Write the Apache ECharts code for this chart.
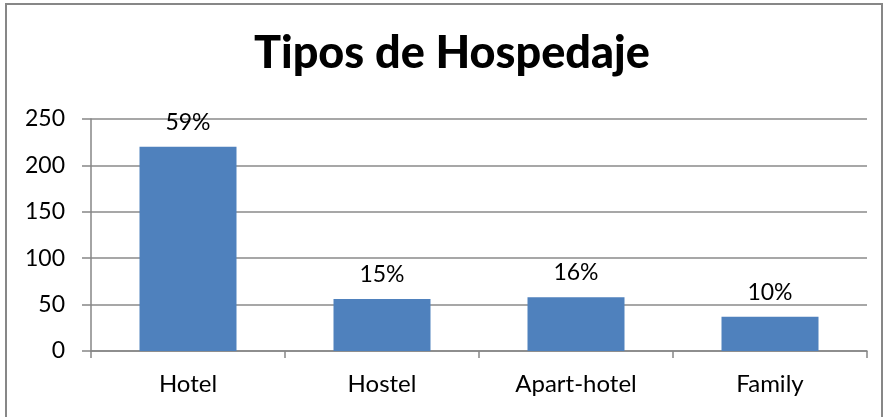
<!DOCTYPE html>
<html><head><meta charset="utf-8">
<script src="https://cdn.jsdelivr.net/npm/echarts@6/dist/echarts.min.js"></script>
<style>html,body{margin:0;padding:0;background:#fff}#c{width:883px;height:417px}</style>
</head><body><div id="c"></div>
<script>
const categories = ['Hotel', 'Hostel', 'Apart-hotel', 'Family'];
const values = [220, 56, 58, 37];
const percentLabels = ['59%', '15%', '16%', '10%'];
const yTicks = [0, 50, 100, 150, 200, 250];

const chart = echarts.init(document.getElementById('c'), null, {renderer: 'canvas'});
const font = 'Lato, "Open Sans", sans-serif';
chart.setOption({
  animation: false,
  backgroundColor: '#fff',
  title: {
    text: 'Tipos de Hospedaje',
    left: 254, top: 31, padding: 0,
    textStyle: {fontFamily: font, fontWeight: 900, fontSize: 45, color: '#000'}
  },
  graphic: [{
    type: 'rect', silent: true,
    shape: {x: 6, y: 4, width: 876, height: 420},
    style: {fill: null, stroke: '#878787', lineWidth: 2}
  }],
  grid: {left: 91, right: 16, top: 119, bottom: 66, containLabel: false},
  xAxis: {
    type: 'category', data: categories,
    axisLine: {lineStyle: {color: '#868686', width: 1.5}},
    axisTick: {show: true, alignWithLabel: false, length: 7, lineStyle: {color: '#868686', width: 1.5}},
    axisLabel: {fontFamily: font, fontSize: 24, color: '#000', margin: 21}
  },
  yAxis: {
    type: 'value', min: yTicks[0], max: yTicks[yTicks.length - 1], interval: 50,
    axisLine: {show: true, lineStyle: {color: '#868686', width: 1.5}},
    axisTick: {show: true, length: 9, lineStyle: {color: '#868686', width: 1.5}},
    splitLine: {lineStyle: {color: '#8a8a8a', width: 1.5}},
    axisLabel: {fontFamily: font, fontSize: 23, color: '#000', margin: 26}
  },
  series: [{
    type: 'bar', data: values, barWidth: '50%',
    itemStyle: {color: '#4F81BD'},
    label: {
      show: true, position: 'top', distance: 13,
      fontFamily: font, fontSize: 23, color: '#000',
      formatter: p => percentLabels[p.dataIndex]
    }
  }]
});
</script></body></html>
